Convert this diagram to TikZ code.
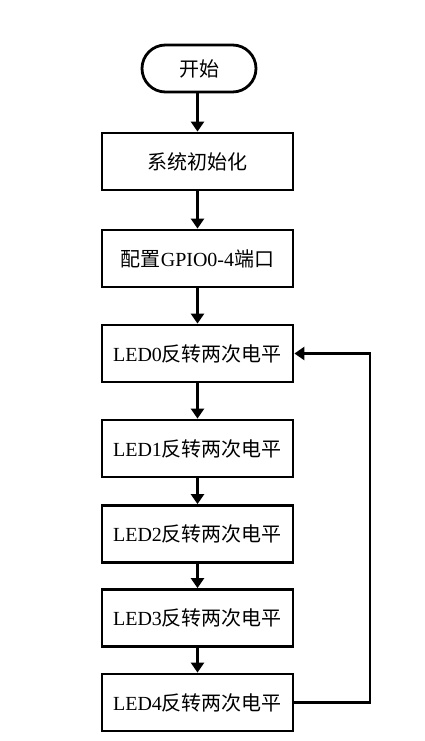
\documentclass[tikz,border=0pt]{standalone}
\usepackage{fontspec}
\usepackage{tikz}
\usetikzlibrary{arrows.meta}
\setmainfont{Liberation Serif}
\newfontfamily\cjk{Noto Sans CJK SC}

\tikzset{
  stepbox/.style={draw,line width=2.8pt,minimum width=191pt,minimum height=57pt,
    inner sep=0pt,font=\fontsize{20}{22}\selectfont},
  startbox/.style={stepbox,minimum width=114pt,minimum height=47pt,rounded corners=23.5pt},
  flow/.style={line width=2.8pt,-{Triangle[length=10pt,width=13pt]}}
}
\newcommand\ledtext[1]{LED#1{\cjk 反转两次电平}}

\begin{document}
\begin{tikzpicture}[x=1pt,y=-1pt]
  \useasboundingbox (0,0) rectangle (425,741);
  \node[startbox] (start) at (199,68.5) {\cjk 开始};
  \node[stepbox] (init) at (197.5,161.5) {\cjk 系统初始化};
  \node[stepbox] (gpio) at (197.5,258.5) {{\cjk 配置}GPIO0-4{\cjk 端口}};
  \node[stepbox] (led0) at (197.5,353.5) {\ledtext{0}};
  \node[stepbox] (led1) at (197.5,448.5) {\ledtext{1}};
  \node[stepbox] (led2) at (197.5,534) {\ledtext{2}};
  \node[stepbox] (led3) at (197.5,618) {\ledtext{3}};
  \node[stepbox] (led4) at (197.5,702.5) {\ledtext{4}};
  \coordinate (loop) at (370,0);
  \draw[flow] (start.south -| init.north) -- (init);
  \draw[flow] (init) -- (gpio);
  \draw[flow] (gpio) -- (led0);
  \draw[flow] (led0) -- (led1);
  \draw[flow] (led1) -- (led2);
  \draw[flow] (led2) -- (led3);
  \draw[flow] (led3) -- (led4);
  % back to the first LED
  \draw[flow] (led4.east) -- (led4.east -| loop) -- (led0.east -| loop) -- (led0.east);
\end{tikzpicture}
\end{document}
